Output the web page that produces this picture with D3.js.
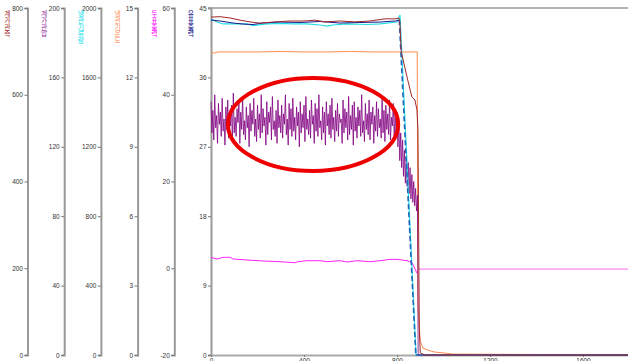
<!DOCTYPE html>
<html><head><meta charset="utf-8">
<script src="https://cdn.jsdelivr.net/npm/d3@7/dist/d3.min.js"></script>
<style>body{margin:0;background:#fff}svg{display:block}</style>
</head><body><svg id="c" width="628" height="361"></svg>
<script>
// ---- axes ----
const axisNames = ["계가관측","계가관압","냉관기류량","냉관기온도","두표출력","유표출력"];
const axisColors = ["#a52a2a","#9932a0","#00e0ee","#ff8c50","#ff00ff","#000080"];
const axisMin = [0,0,0,0,-20,0];
const axisMax = [800,200,2000,15,60,45];
const axisTicks = [
  [0,200,400,600,800],
  [0,40,80,120,160,200],
  [0,400,800,1200,1600,2000],
  [0,3,6,9,12,15],
  [-20,0,20,40,60],
  [0,9,18,27,36,45]
];
const timeDomain = [0,1800];
const timeTicks = [0,400,800,1200,1600];

// ---- series (each on its own axis) ----
const tBrown = [0,39,82,125,168,211,275,340,404,447,490,555,619,684,748,791,808,812,818,843,864,877,886,890,893,896,900,920,1800];
const vBrown = [779,780,777,772,768,765,768,770,770,772,768,770,768,770,775,775,777,770,700,641,595,588,565,520,300,60,5,0,0];

const tNavy = [0,40,95,145,181,220,297,383,469,555,640,727,791,810,881,1800];
const vNavy = [43.44,43.31,43.05,42.9,42.86,43.05,43.18,43.12,43.25,43.05,43.12,43.18,43.31,43.4,0,0];

const tCyan = [0,9,26,52,82,155,181,241,297,353,413,469,499,525,585,671,727,800,813,882,1800];
const vCyan = [1931,1931,1919,1908,1908,1908,1899,1908,1911,1908,1908,1902,1896,1902,1908,1905,1908,1919,1960,0,0];

const tOrange = [0,15,30,100,200,300,400,500,600,700,800,887,890,900,912,930,960,1000,1040,1800];
const vOrange = [13.06,13.06,13.10,13.10,13.10,13.12,13.10,13.10,13.12,13.10,13.10,13.10,2.1,0.6,0.3,0.22,0.13,0.09,0.04,0];

const tMag = [0,3,25,52,82,95,155,224,297,361,374,413,469,499,555,585,628,684,727,770,800,843,865,886];
const vMag = [2.4,2.46,2.13,2.52,2.52,2.13,1.9,1.67,1.51,1.28,1.51,1.74,1.74,1.51,1.74,1.44,1.74,1.51,1.74,2.05,2.05,1.74,1.28,-1.16];
const tMagAfter = [888,1800];
const vMagAfter = [-0.2,-0.2];

const purpleStep = 4;
const purpleValues = [
146,128,141,124,150,131,138,122,145,133,
140,126,148,129,136,121,143,130,147,125,
139,132,144,123,151,128,137,126,142,134,
146,122,140,130,149,127,135,124,143,131,
138,120,145,129,141,133,148,126,136,123,
144,130,139,125,150,128,142,132,137,121,
146,127,140,134,143,124,149,130,135,126,
141,122,147,131,138,128,144,125,139,133,
150,127,136,121,145,130,142,126,148,129,
137,124,143,132,140,120,146,128,139,131,
144,123,149,130,136,127,141,125,147,133,
138,122,145,129,142,126,150,131,135,124,
143,128,140,121,146,132,139,127,144,125,
148,130,137,123,141,129,145,126,139,134,
136,122,147,128,142,131,140,124,149,127,
138,130,144,121,146,129,137,125,143,132,
141,126,150,128,135,123,145,130,139,127,
147,124,140,133,143,122,138,129,146,126,
142,131,136,125,149,128,141,123,144,130,
139,127,147,124,137,132,145,126,140,129,
140,120,135,112,128,108,124,103,118,99,114,97,111,93,108,90,104,88,100,86,96,83,92];
const tPurpleEnd = [891,1800];
const vPurpleEnd = [0,0];

// annotation ellipse (time units / main-axis units)
const note = {t:439, v:29.9, rt:366, rv:6.03};

// ---- drawing ----
const svg = d3.select("#c");
const yTop = 8, yBottom = 355;
const axisX = d3.range(6).map(i => 27.5 + i*36.7);
const x = d3.scaleLinear().domain(timeDomain).range([211, 629.5]);
const ys = axisMin.map((m,i) => d3.scaleLinear().domain([m, axisMax[i]]).range([yBottom, yTop]));

const font = "'Liberation Sans', Arial, sans-serif";
const fmt = d => (d < 0 ? "-" : "") + Math.abs(d);

axisX.forEach((ax,i) => {
  const g = svg.append("g").attr("transform", `translate(${ax},0)`)
    .call(d3.axisLeft(ys[i]).tickValues(axisTicks[i]).tickFormat(fmt).tickSize(3).tickSizeOuter(3).tickPadding(1.5));
  g.select(".domain").attr("stroke","#999").attr("stroke-width",2);
  g.selectAll(".tick line").attr("stroke","#777");
  g.selectAll("text").attr("font-family",font).attr("font-size",6.5).attr("fill","#333");
  svg.append("text").attr("fill",axisColors[i])
    .attr("font-family","'Noto Sans CJK KR', sans-serif").attr("font-size",6.8)
    .attr("x", ax - 20).attr("y", 10)
    .style("writing-mode","vertical-rl").style("text-orientation","upright")
    .text(axisNames[i]);
});

// frame top line
svg.append("line").attr("x1",x.range()[0]-3).attr("x2",628).attr("y1",yTop).attr("y2",yTop)
  .attr("stroke","#999").attr("stroke-width",1.3);

// bottom axis
const gx = svg.append("g").attr("transform",`translate(0,${yBottom})`)
  .call(d3.axisBottom(x).tickValues(timeTicks).tickFormat(fmt).tickSize(2).tickSizeOuter(0).tickPadding(1));
gx.select(".domain").attr("stroke","#aaa").attr("stroke-width",2);
gx.selectAll(".tick line").attr("stroke","#777");
gx.selectAll("text").attr("font-family",font).attr("font-size",6.5).attr("fill","#333");

const plot = svg.append("g");
function draw(ts, vs, yi, color, w, dash, op){
  const data = ts.map((t,k)=>[t,vs[k]]);
  const p = plot.append("path").datum(data)
    .attr("d", d3.line().x(d=>x(d[0])).y(d=>ys[yi](d[1])))
    .attr("fill","none").attr("stroke",color).attr("stroke-width",w||1);
  if (dash) p.attr("stroke-dasharray",dash);
  if (op) p.attr("stroke-opacity",op);
}

draw(tOrange, vOrange, 3, "#ff8c50", 1);
draw(tMag, vMag, 4, "#ff22ff", 1);
draw(tMagAfter, vMagAfter, 4, "#ffa8f5", 1.8);
const tPurple = purpleValues.map((v,k)=>k*purpleStep).concat(tPurpleEnd);
draw(tPurple, purpleValues.concat(vPurpleEnd), 1, "#800080", 0.8);
draw(tCyan, vCyan, 2, "#22dde8", 1.2);
const iA = tNavy.indexOf(810), iB = tNavy.indexOf(881);
draw(tNavy.slice(0,iA+1), vNavy.slice(0,iA+1), 5, "#1a1a8c", 1);
draw(tNavy.slice(iA,iB+1), vNavy.slice(iA,iB+1), 5, "#2266bb", 1.6, "5,3");
draw(tNavy.slice(iB), vNavy.slice(iB), 5, "#1a1a8c", 1);
draw(tBrown, vBrown, 0, "#a0282c", 1);

// annotation ellipse
svg.append("ellipse")
  .attr("cx", x(note.t)).attr("cy", ys[5](note.v))
  .attr("rx", x(note.rt) - x(0)).attr("ry", ys[5](0) - ys[5](note.rv))
  .attr("fill","none").attr("stroke","#ee0000").attr("stroke-width",4);
</script></body></html>
